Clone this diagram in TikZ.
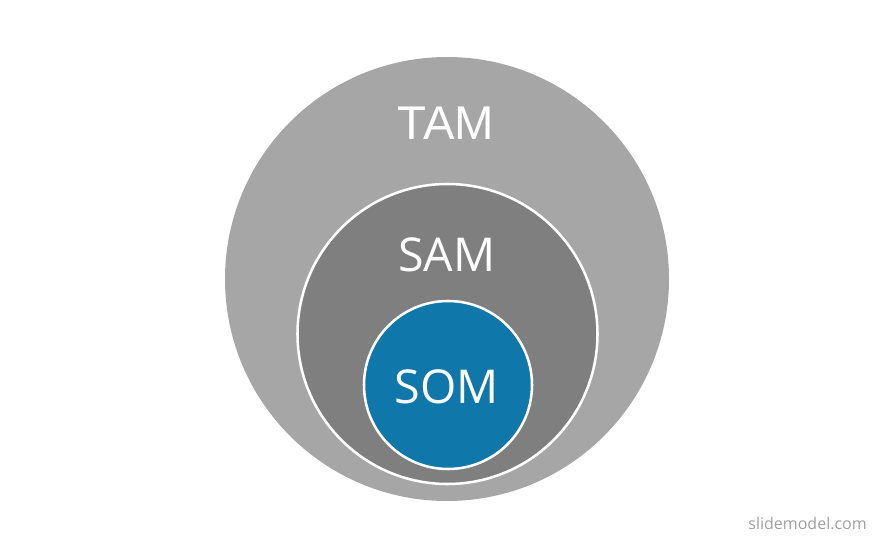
\documentclass[tikz,border=0pt]{standalone}
\usepackage{fontspec}
\setmainfont{Open Sans}
\newfontfamily\tamfont{Liberation Sans}
\usepackage{tikz}
\usepackage{xcolor}
\definecolor{tamgray}{HTML}{A6A6A6}
\definecolor{samgray}{HTML}{7F7F7F}
\definecolor{somblue}{HTML}{0F77A9}
\definecolor{markgray}{HTML}{A0A0A0}

\begin{document}
\begin{tikzpicture}[x=0.75pt,y=0.75pt,
  ring/.style={draw=white,line width=1.9pt},
  label/.style={text=white,inner sep=0pt,anchor=base,font=\fontsize{35}{40}\selectfont}]
\useasboundingbox(0,0)rectangle(885,536);
\fill[tamgray](447,257)circle[radius=166.5pt];
\draw[ring,fill=samgray](447.5,202)circle[radius=112.5pt];
\draw[ring,fill=somblue](448,151)circle[radius=63pt];
\node[label,font=\tamfont\fontsize{35.5}{40}\selectfont](tam)at(446,396){TAM};
\node[label](sam)at(447,264){SAM};
\node[label](som)at(447,133){SOM};
\node[text=markgray,inner sep=0pt,anchor=base east,font=\fontsize{12}{14}\selectfont](mark)at(867,7){slidemodel.com};
\end{tikzpicture}
\end{document}
